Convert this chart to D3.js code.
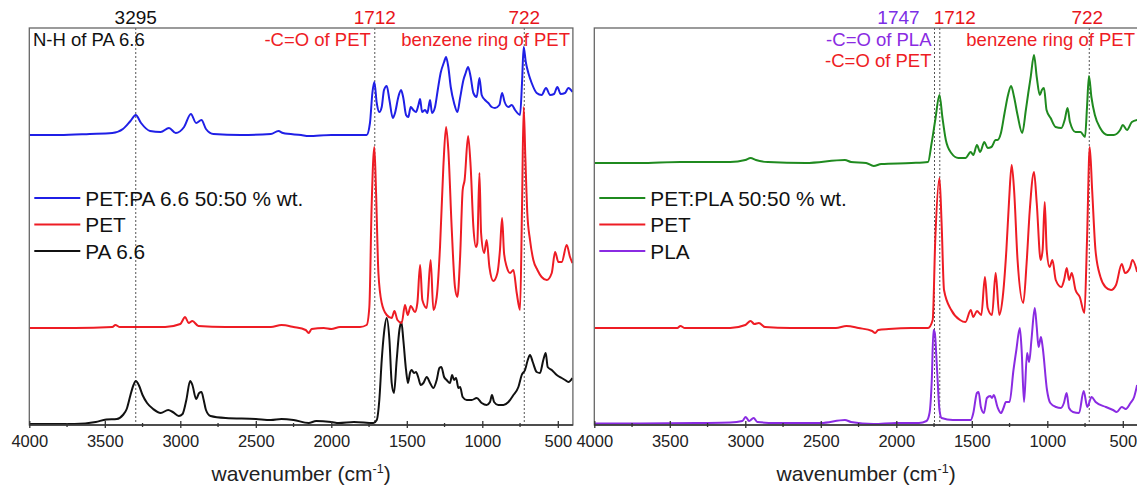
<!DOCTYPE html>
<html><head><meta charset="utf-8">
<script src="https://cdn.jsdelivr.net/npm/d3@7/dist/d3.min.js"></script>
<style>body{margin:0;background:#fff}svg{display:block;font-family:Arial,"Liberation Sans",sans-serif}</style>
</head><body>
<script>
// ---------- data (wavenumber cm-1, absorbance a.u. with stacking offset) ----------
const xTicks = [4000, 3500, 3000, 2500, 2000, 1500, 1000, 500];
const xMinorTicks = [3750, 3250, 2750, 2250, 1750, 1250, 750];
const legendLeft = ["PET:PA 6.6 50:50 % wt.", "PET", "PA 6.6"];
const legendRight = ["PET:PLA 50:50 % wt.", "PET", "PLA"];

const blendPA = [[4000,290],[3800,290],[3600,291],[3450,292],[3380,296],[3330,304],[3295,310],[3260,302],[3200,294],[3130,293],[3075,297],[3030,292],[2975,298],[2930,311],[2895,302],[2860,305],[2830,296],[2780,291],[2600,290],[2400,291],[2350,294],[2320,292],[2200,290],[2150,289],[2000,290],[1900,290],[1766,290],[1744,302],[1728,332],[1715,343],[1699,322],[1682,313],[1666,318],[1651,335],[1633,339],[1615,325],[1593,307],[1578,312],[1556,328],[1538,335],[1523,327],[1505,310],[1490,308],[1474,318],[1457,315],[1439,313],[1423,320],[1412,326],[1399,313],[1379,315],[1364,312],[1346,325],[1333,312],[1313,318],[1295,335],[1276,352],[1253,363],[1240,368],[1225,358],[1209,338],[1187,322],[1165,313],[1147,327],[1125,345],[1110,352],[1094,358],[1077,348],[1059,332],[1037,328],[1019,347],[1004,330],[982,325],[960,322],[938,318],[916,317],[887,320],[869,332],[852,323],[827,318],[805,320],[783,315],[750,310],[737,342],[726,378],[712,363],[695,352],[673,342],[640,332],[607,330],[578,337],[551,330],[525,331],[503,338],[481,331],[452,332],[430,337],[403,333]];

const petLeft = [[4000,97],[3700,97],[3450,98],[3430,100],[3400,98],[3100,98],[3000,101],[2968,108],[2945,102],[2920,104],[2880,99],[2700,98],[2400,98],[2330,100],[2250,98],[2170,95],[2150,92],[2130,96],[2050,97],[2000,96],[1942,98],[1810,98],[1766,100],[1748,118],[1733,218],[1715,278],[1704,235],[1688,152],[1666,122],[1633,110],[1600,107],[1582,114],[1562,105],[1534,102],[1512,120],[1494,110],[1474,119],[1446,113],[1430,122],[1412,160],[1397,125],[1368,117],[1342,165],[1324,115],[1302,128],[1280,178],[1258,258],[1240,298],[1225,275],[1203,198],[1181,138],[1165,128],[1147,168],[1130,235],[1117,245],[1094,289],[1077,258],[1059,198],[1042,178],[1033,182],[1019,252],[1008,192],[988,172],[971,185],[953,158],[927,144],[900,152],[883,175],[869,207],[856,172],[838,158],[816,152],[794,155],[772,132],[750,115],[737,218],[726,318],[715,268],[702,212],[684,185],[662,165],[635,155],[607,148],[573,145],[540,152],[518,173],[496,163],[474,163],[441,180],[419,168],[403,162]];

const pa66 = [[4000,1],[3700,1],[3560,3],[3490,5.5],[3420,6],[3380,10],[3355,16],[3330,30],[3310,40],[3295,44],[3275,40],[3250,30],[3220,22],[3180,16],[3130,12],[3080,15],[3050,13],[3010,9],[2985,11],[2960,25],[2935,44],[2920,40],[2895,26],[2875,32],[2860,33],[2845,25],[2830,15],[2800,9],[2700,7],[2500,6],[2400,5],[2330,6],[2250,5],[2150,2],[2100,4],[2000,3],[1950,2],[1850,3],[1721,2],[1699,5],[1682,25],[1666,65],[1651,92],[1633,107],[1615,85],[1600,42],[1585,32],[1567,65],[1549,95],[1536,103],[1523,85],[1505,55],[1492,42],[1479,52],[1468,55],[1452,52],[1439,53],[1423,47],[1408,40],[1390,42],[1368,48],[1346,42],[1324,37],[1302,45],[1284,57],[1271,58],[1253,48],[1236,45],[1214,42],[1200,50],[1187,45],[1174,47],[1158,37],[1147,38],[1130,28],[1103,25],[1070,25],[1037,27],[1004,22],[971,20],[949,23],[936,30],[922,23],[894,20],[860,20],[827,23],[794,30],[761,38],[739,50],[717,55],[699,65],[684,70],[666,63],[640,53],[618,52],[596,65],[580,72],[567,58],[540,55],[507,50],[474,47],[452,45],[430,43],[403,47]];

const blendPLA = [[4000,262],[3700,262],[3430,263],[3100,263],[3000,265],[2965,267],[2930,265],[2850,263],[2600,262],[2340,265],[2300,263],[2200,262],[2150,259],[2100,261],[1900,262],[1790,263],[1766,282],[1742,305],[1714,330],[1695,308],[1672,285],[1636,272],[1589,267],[1542,267],[1507,273],[1490,270],[1466,280],[1445,273],[1417,283],[1395,277],[1370,278],[1342,285],[1330,285],[1307,292],[1283,312],[1260,330],[1240,339],[1220,328],[1197,310],[1166,292],[1142,315],[1126,332],[1110,348],[1088,370],[1070,348],[1050,330],[1036,335],[1022,337],[1005,315],[978,307],[945,298],[907,297],[885,305],[866,317],[850,303],[813,293],[780,293],[750,288],[737,318],[724,349],[708,328],[685,310],[650,297],[601,290],[560,290],[518,295],[500,300],[472,295],[440,303],[405,305]];

const petRight = [[4000,97],[3700,97],[3450,97],[3430,99],[3400,97],[3100,97],[3000,100],[2965,104],[2940,101],[2910,102],[2870,98],[2700,97],[2400,97],[2330,99],[2250,97],[2160,94],[2140,92],[2120,95],[2050,96],[1900,97],[1790,97],[1759,105],[1742,185],[1714,247],[1700,202],[1684,135],[1636,115],[1578,105],[1542,103],[1507,115],[1490,108],[1466,114],[1437,110],[1413,148],[1395,117],[1366,110],[1342,152],[1318,110],[1295,128],[1271,175],[1253,225],[1236,260],[1220,235],[1197,165],[1159,122],[1137,162],[1116,215],[1088,253],[1070,222],[1044,165],[1031,175],[1017,223],[1004,175],[985,158],[966,165],[944,145],[907,138],[889,145],[871,157],[856,145],[838,152],[813,135],[785,128],[754,112],[737,185],[719,278],[703,235],[681,175],[648,148],[615,138],[578,135],[545,140],[507,161],[485,152],[453,157],[436,165],[405,153]];

const pla = [[4000,1.5],[3700,1.5],[3300,2],[3100,2.5],[3020,4],[2997,8],[2975,4],[2945,7],[2920,3],[2800,2],[2500,2],[2340,5],[2300,3],[2150,1],[2000,2],[1850,2],[1800,4],[1780,12],[1765,45],[1754,95],[1745,92],[1731,58],[1714,15],[1700,7],[1625,5],[1507,5],[1490,12],[1466,32],[1455,33],[1440,18],[1420,12],[1400,27],[1378,29],[1366,27],[1354,30],[1330,18],[1307,12],[1290,17],[1274,23],[1250,23],[1224,55],[1205,75],[1182,97],[1170,75],[1154,23],[1134,72],[1120,63],[1105,85],[1083,117],[1070,98],[1058,78],[1042,88],[1030,77],[1002,35],[980,22],[942,18],[910,17],[890,22],[872,32],[856,17],[830,13],[790,12],[759,34],[735,18],[707,28],[680,23],[612,18],[565,15],[540,13],[507,18],[480,16],[449,22],[425,28],[405,40]];

const annLeft = [{wn:3295, label:"3295", color:"#111"},{wn:1712, label:"1712", color:"#e8141b"},{wn:722, label:"722", color:"#e8141b"}];
const annRight = [{wn:1747, label:"1747", color:"#7b2ee6", dx:-36},{wn:1712, label:"1712", color:"#e8141b", dx:15},{wn:722, label:"722", color:"#e8141b", dx:-2}];

// ---------- drawing ----------
const W = 1137, H = 488;
const yTop = 28, yBot = 425;
const svg = d3.select("body").append("svg").attr("width", W).attr("height", H);
const y = d3.scaleLinear().domain([0, 397]).range([yBot, yTop]);

const colors = {blue:"#1f1fe6", red:"#ee1c24", black:"#111", green:"#1f8a1f", purple:"#8a2be2"};

function panel(x0, x1, id, series, legendNames, legendColors, anns) {
  const x = d3.scaleLinear().domain([4000, 400]).range([x0, x1]);
  const g = svg.append("g");
  g.append("clipPath").attr("id", id).append("rect")
    .attr("x", x0).attr("y", yTop).attr("width", x1 - x0).attr("height", yBot - yTop);
  anns.forEach(a => {
    g.append("line").attr("x1", x(a.wn)).attr("x2", x(a.wn)).attr("y1", yTop).attr("y2", yBot)
      .attr("stroke", "#555").attr("stroke-width", 1).attr("stroke-dasharray", "2,2");
  });
  const line = d3.line().x(d => x(d[0])).y(d => y(d[1])).curve(d3.curveMonotoneX);
  series.forEach(s => {
    g.append("path").datum(s.data).attr("d", line).attr("fill", "none")
      .attr("stroke", s.color).attr("stroke-width", 2).attr("stroke-linejoin", "round")
      .attr("clip-path", `url(#${id})`);
  });
  g.append("rect").attr("x", x0).attr("y", yTop).attr("width", x1 - x0).attr("height", yBot - yTop)
    .attr("fill", "none").attr("stroke", "#666").attr("stroke-width", 1.3);
  g.append("line").attr("x1", x0).attr("x2", x1).attr("y1", yBot).attr("y2", yBot)
    .attr("stroke", "#333").attr("stroke-width", 1.4);
  const ax = g.append("g").attr("transform", `translate(0,${yBot})`)
    .call(d3.axisBottom(x).tickValues(xTicks).tickSize(4).tickFormat(d3.format("d")));
  ax.select(".domain").remove();
  ax.selectAll(".tick line").attr("y1", -4).attr("y2", 3).attr("stroke", "#333").attr("stroke-width", 1.3);
  ax.selectAll(".tick text").attr("y", 10).attr("font-size", 16.5).attr("fill", "#222")
    .attr("font-family", "Arial, 'Liberation Sans', sans-serif");
  g.selectAll(".minor").data(xMinorTicks).enter().append("line")
    .attr("x1", d => x(d)).attr("x2", d => x(d)).attr("y1", yBot - 2).attr("y2", yBot + 2)
    .attr("stroke", "#333").attr("stroke-width", 1.3);
  const t = g.append("text").attr("x", (x0 + x1) / 2).attr("y", 481).attr("text-anchor", "middle")
    .attr("font-size", 21).attr("fill", "#222");
  t.append("tspan").text("wavenumber (cm");
  t.append("tspan").text("-1").attr("font-size", 12.5).attr("dy", -8);
  t.append("tspan").text(")").attr("dy", 8);
  anns.forEach(a => {
    g.append("text").attr("x", x(a.wn) + (a.dx || 0)).attr("y", 24).attr("text-anchor", "middle")
      .attr("font-size", 19).attr("fill", a.color).text(a.label);
  });
  legendNames.forEach((n, i) => {
    const ly = 198 + i * 26.5;
    g.append("line").attr("x1", x0 + 5).attr("x2", x0 + 51).attr("y1", ly).attr("y2", ly)
      .attr("stroke", legendColors[i]).attr("stroke-width", 2);
    g.append("text").attr("x", x0 + 56).attr("y", ly + 7.5).attr("font-size", 20.8).attr("fill", "#111").text(n);
  });
  return {g, x};
}

const L = panel(29.3, 572.9, "clipL",
  [{data: pa66, color: colors.black}, {data: petLeft, color: colors.red}, {data: blendPA, color: colors.blue}],
  legendLeft, [colors.blue, colors.red, colors.black], annLeft);
L.g.append("text").attr("x", 33).attr("y", 46).attr("font-size", 18.5).attr("fill", "#111").text("N-H of PA 6.6");
L.g.append("text").attr("x", L.x(1712) - 4).attr("y", 46).attr("text-anchor", "end").attr("font-size", 18.5).attr("fill", colors.red).text("-C=O of PET");
L.g.append("text").attr("x", 570).attr("y", 46).attr("text-anchor", "end").attr("font-size", 18.5).attr("fill", colors.red).text("benzene ring of PET");

const R = panel(594.3, 1137.9, "clipR",
  [{data: pla, color: colors.purple}, {data: petRight, color: colors.red}, {data: blendPLA, color: colors.green}],
  legendRight, [colors.green, colors.red, colors.purple], annRight);
R.g.append("text").attr("x", R.x(1747) - 3).attr("y", 46).attr("text-anchor", "end").attr("font-size", 18.5).attr("fill", colors.purple).text("-C=O of PLA");
R.g.append("text").attr("x", R.x(1747) - 3).attr("y", 67).attr("text-anchor", "end").attr("font-size", 18.5).attr("fill", colors.red).text("-C=O of PET");
R.g.append("text").attr("x", 1135).attr("y", 46).attr("text-anchor", "end").attr("font-size", 18.5).attr("fill", colors.red).text("benzene ring of PET");
</script>
</body></html>
